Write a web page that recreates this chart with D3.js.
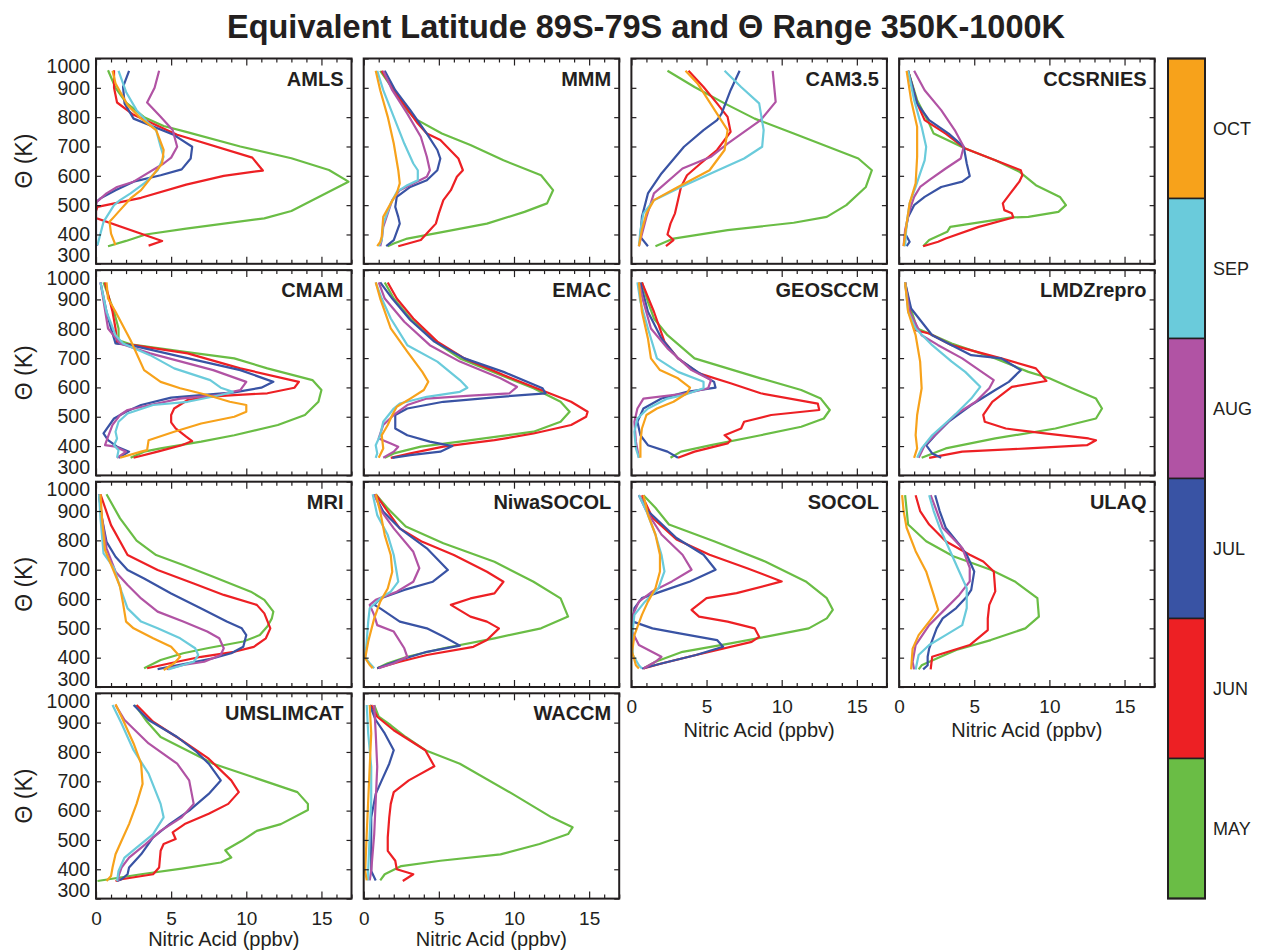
<!DOCTYPE html>
<html><head><meta charset="utf-8">
<script src="https://cdn.jsdelivr.net/npm/d3@7"></script>
<style>
body{margin:0;background:#fff;}
text{font-family:"Liberation Sans",Arial,Helvetica,sans-serif;fill:#231f20;}
</style></head><body>
<svg id="chart" width="1261" height="951" xmlns="http://www.w3.org/2000/svg"></svg>
<script>
// ---------- DATA ----------
const months = ["MAY","JUN","JUL","AUG","SEP","OCT"];
const monthColors = ["#6abd45","#ed2024","#3953a4","#b153a4","#6acbdb","#f7a21b"];
const legendOrder = ["OCT","SEP","AUG","JUL","JUN","MAY"];
const models = ["AMLS","MMM","CAM3.5","CCSRNIES","CMAM","EMAC","GEOSCCM","LMDZrepro","MRI","NiwaSOCOL","SOCOL","ULAQ","UMSLIMCAT","WACCM"];
const thetaTicks = [300,400,500,600,700,800,900,1000];
const xTickLabels = [0,5,10,15];
// each entry: [theta (K), nitric acid (ppbv)]
const AMLS = {
MAY:[[960,0.8],[900,1.3],[850,2],[800,3.2],[770,4.5],[750,6],[700,9.6],[660,13],[620,15.5],[580,16.8],[480,13],[455,11.2],[420,6],[400,3.3],[378,2],[360,0.8]],
JUN:[[960,1.2],[900,1.2],[850,1.4],[808,2.5],[740,5.4],[662,10.4],[618,11.1],[600,8.5],[570,6],[525,3],[494,0.1],[480,0],[456,0],[378,4.4],[362,3.5]],
JUL:[[958,2.2],[903,1.8],[847,1.9],[795,2.5],[739,5.2],[699,6.4],[659,6.3],[622,5.7],[602,4.3],[580,2.5],[551,1.3],[523,0.3],[510,0],[370,0],[362,0.1]],
AUG:[[958,4.2],[900,3.9],[850,3.4],[801,4.3],[756,5.1],[699,5.4],[662,5],[642,4.5],[580,2.5],[562,1.4],[540,0.7],[511,0.05],[500,0]],
SEP:[[958,1.5],[886,2],[824,2.7],[784,3.4],[756,4],[699,4.3],[665,4.5],[619,4.1],[574,3.2],[540,2.3],[517,1.6],[500,1.2],[443,0.5],[364,0.1]],
OCT:[[958,1.1],[915,1.3],[841,2.1],[795,3],[756,4],[688,4.5],[642,4.4],[551,3],[523,2.3],[483,1.6],[460,1.2],[443,0.9],[403,1],[364,1.3]]
};
const MMM = {
MAY:[[958,1.1],[892,2],[835,2.7],[795,3.4],[744,5.2],[705,7.1],[653,9.3],[602,11.8],[551,12.6],[506,12.2],[477,10.7],[437,8.2],[409,5.3],[386,2.9],[369,2],[360,1.6]],
JUN:[[958,1.2],[892,2],[778,3.6],[744,4.2],[722,5.1],[659,6.3],[619,6.6],[597,6.2],[551,5.8],[517,5.3],[472,5],[437,4.8],[409,4.3],[381,3.8],[360,2.3]],
JUL:[[958,1.4],[892,2.1],[824,3.1],[744,4.2],[688,4.9],[659,5.1],[619,4.9],[585,4.2],[562,3.1],[528,2.2],[494,2.1],[460,2.3],[437,2.4],[381,2],[360,1.5]],
AUG:[[958,1.3],[892,1.9],[812,2.9],[733,3.8],[665,4.2],[619,4.4],[597,4.2],[574,3.3],[551,2.4],[517,1.9],[472,1.6],[426,1.3],[381,1.2],[360,1.1]],
SEP:[[958,0.9],[892,1.3],[801,2],[710,2.7],[642,3.3],[619,3.6],[585,3.6],[568,2.9],[545,2.2],[506,1.8],[437,1.3],[381,1.2],[360,1]],
OCT:[[958,0.8],[892,1.1],[801,1.6],[710,2],[619,2.3],[574,2.4],[540,2.2],[506,1.8],[460,1.3],[392,1.2],[375,1.1],[360,0.9]]
};
const CAM35 = {
MAY:[[958,2.4],[903,4.2],[847,6.2],[795,8.2],[744,10.8],[659,15.1],[619,16],[562,15.6],[500,14.3],[460,13],[440,10.8],[415,6.4],[386,2.8],[360,1.6]],
JUN:[[958,3.8],[903,4.8],[847,5.7],[801,6.4],[750,6.6],[688,5.7],[642,4.6],[602,3.7],[562,3.3],[517,3.1],[472,2.9],[437,2.6],[400,2.4],[381,2.8],[360,2.3]],
JUL:[[958,7.2],[892,6.6],[812,6],[790,5.7],[756,4.8],[699,3.5],[608,2],[540,1.1],[460,0.7],[392,0.6],[360,1.1]],
AUG:[[958,9.4],[852,9.6],[790,8.6],[710,6.4],[665,5.3],[625,3.4],[540,1.5],[460,1],[381,0.6],[360,0.5]],
SEP:[[958,6.2],[903,7.3],[847,8.5],[756,8.8],[699,8.7],[659,7.5],[613,5.5],[562,3.3],[517,1.5],[472,0.8],[415,0.6],[360,0.5]],
OCT:[[958,3.6],[915,4.4],[756,6.4],[688,6.2],[619,5.2],[562,3.1],[517,1.5],[472,1],[415,0.7],[360,0.5]]
};
const CCSRNIES = {
MAY:[[958,0.6],[858,1.2],[778,2],[744,2.3],[693,4.4],[653,6.4],[614,8],[568,9.1],[528,10.7],[500,11.1],[477,10.6],[460,8.6],[458,7.5],[426,3.4],[409,3.2],[381,2],[360,1.6]],
JUN:[[958,0.6],[847,1.2],[790,1.7],[744,3.1],[693,4.4],[653,6.4],[619,8.1],[602,8.2],[580,8],[540,7.4],[506,6.9],[483,7],[472,7.5],[458,7.6],[426,5.3],[386,3.1],[375,2.6],[360,1.6]],
JUL:[[958,0.6],[847,1.2],[790,2],[744,3.3],[699,4.3],[642,4.5],[599,4.7],[580,4.2],[562,2.8],[528,1.7],[500,1],[460,0.6],[403,0.4],[375,0.7],[360,0.5]],
AUG:[[958,1],[892,1.7],[824,2.8],[756,3.7],[699,4.3],[659,4.1],[625,3.1],[585,2],[562,1.4],[528,1],[483,0.7],[415,0.4],[360,0.3]],
SEP:[[958,0.6],[858,1],[767,1.5],[699,1.8],[653,1.7],[608,1.4],[562,1.1],[506,0.7],[437,0.5],[360,0.4]],
OCT:[[958,0.5],[858,0.8],[767,1.2],[665,1.2],[574,1.1],[506,0.7],[437,0.5],[360,0.3]]
};
const CMAM = {
MAY:[[958,0.5],[858,1.2],[801,1.5],[761,1.5],[747,2.3],[722,5.8],[699,9.2],[665,11.4],[625,14.4],[591,15],[551,14.8],[506,13.9],[472,12.1],[437,9.2],[415,7],[392,4.3],[381,3.2],[360,2.3]],
JUN:[[958,0.6],[858,1.1],[801,1.3],[750,1.4],[744,2.5],[716,6.1],[665,9.6],[619,13.5],[599,13.2],[580,11.4],[574,9.2],[568,7.4],[557,6.1],[528,5.2],[506,5],[481,5],[460,5.3],[432,6],[417,6.4],[403,5.7],[381,4.1],[360,2.5]],
JUL:[[958,0.3],[858,0.7],[801,1],[750,1.3],[744,2.3],[710,5.2],[659,9.6],[619,11.8],[599,11],[583,9.2],[574,7],[565,5],[540,3],[517,2],[494,1.2],[443,0.5],[420,0.8],[398,1.4],[381,2.2],[360,1.5]],
AUG:[[958,0.3],[801,0.8],[750,1.6],[716,3.6],[659,7.8],[619,10],[591,9.6],[574,8.1],[562,5.6],[540,3.6],[523,2.1],[506,1.6],[472,1.1],[432,0.8],[403,0.6],[398,1.3],[381,2],[360,1.4]],
SEP:[[958,0.3],[858,0.7],[778,1.3],[750,1.8],[710,3.6],[665,5.2],[625,7.6],[599,8.3],[585,9.1],[574,8.3],[551,6.1],[540,3.8],[511,2.1],[483,1.5],[449,1.3],[426,1.4],[403,1.2],[386,1.5],[360,1.4]],
OCT:[[958,0.7],[903,0.8],[858,1.3],[761,2.3],[659,3.2],[619,4.3],[597,5.6],[574,7.4],[551,8.9],[540,10],[517,10],[500,9.2],[477,7],[449,5.2],[420,3.5],[386,3.4],[381,3],[360,1.6]]
};
const EMAC = {
MAY:[[958,1.4],[903,2],[835,3.1],[750,4.9],[699,6.4],[642,9.1],[597,11.3],[551,13.1],[517,13.7],[483,13.1],[449,11.3],[415,6.4],[398,3.8],[375,2],[360,1.4]],
JUN:[[958,1.6],[903,2.2],[835,3.3],[756,4.9],[699,6.7],[642,9.3],[591,11.8],[551,13.8],[517,14.9],[500,14.8],[472,13.8],[443,11.3],[420,8.7],[398,5.3],[375,3.1],[360,1.8]],
JUL:[[958,1.1],[903,1.9],[830,3.1],[756,4.7],[699,6.7],[653,9.3],[597,11.9],[580,12.1],[568,9.1],[551,5.3],[528,2.9],[506,2.1],[460,2.1],[437,2.9],[415,4.4],[400,5.9],[381,5.1],[369,3.1],[360,1.9]],
AUG:[[958,1],[903,1.4],[824,2.7],[744,4.4],[688,6.4],[631,9.1],[602,10.2],[580,9.7],[572,7.1],[562,4.2],[540,2.9],[506,2],[472,1.3],[426,1],[409,1.8],[398,2.3],[381,2],[360,1.3]],
SEP:[[958,0.8],[903,1.2],[835,1.8],[744,2.9],[688,4.9],[625,6.4],[599,6.9],[585,6.4],[568,4.2],[545,2.4],[528,2],[483,1.3],[437,1.1],[403,0.8],[375,0.9],[360,0.8]],
OCT:[[958,0.8],[903,1.1],[801,1.8],[722,2.9],[653,3.9],[619,4.3],[591,4],[562,3.1],[534,2.2],[506,1.9],[472,1.6],[437,1.2],[392,1.3],[360,1]]
};
const GEOSCCM = {
MAY:[[958,0.7],[892,1.1],[835,1.5],[778,2.4],[699,4.2],[665,6.4],[631,8.6],[591,11.3],[562,12.6],[523,13.2],[494,12.8],[466,11.3],[437,8.6],[403,5.3],[381,3.3],[360,2.6]],
JUN:[[958,0.7],[858,1.5],[756,2.2],[699,3.1],[648,4.5],[614,6.6],[580,8.6],[545,12.4],[523,12.5],[506,9.3],[483,7.5],[460,7.3],[437,6.2],[420,6.6],[409,6.4],[381,4.2],[360,3.1]],
JUL:[[958,0.6],[858,1.1],[767,2],[699,3.1],[653,4.4],[619,5.5],[599,5.6],[585,3.7],[562,2],[528,0.8],[483,0.4],[437,0.6],[403,1.1],[381,2.4],[360,3.1]],
AUG:[[958,0.5],[892,0.8],[801,1.3],[733,2.4],[659,4],[625,5.3],[597,5.1],[580,3.7],[562,0.8],[528,0.4],[483,0.2],[415,0.3],[360,0.5]],
SEP:[[958,0.4],[892,0.6],[801,1.1],[699,1.7],[653,3.1],[619,4.8],[597,4.8],[574,3.5],[562,2.4],[528,1.1],[494,0.4],[449,0.2],[392,0.3],[360,0.5]],
OCT:[[958,0.5],[858,0.7],[767,1.1],[699,1.3],[659,1.9],[631,3.1],[599,3.9],[580,3.7],[551,2.8],[528,1.7],[506,1],[460,0.7],[415,0.6],[360,0.6]]
};
const LMDZrepro = {
MAY:[[958,0.4],[880,0.7],[801,1.2],[784,2],[750,3.5],[699,6.4],[653,8.6],[631,10],[597,11.5],[562,13.1],[528,13.5],[494,13.1],[460,10.4],[426,6.4],[392,3.1],[360,1.5]],
JUN:[[958,0.4],[880,0.6],[795,1.1],[784,2],[744,3.5],[699,6.8],[665,9.1],[653,9.3],[622,9.8],[602,7.5],[551,6.2],[506,5.6],[483,5.7],[460,7.1],[443,9.7],[426,12.6],[420,13.1],[403,12.5],[392,8.6],[381,4.2],[360,2]],
JUL:[[958,0.4],[869,0.8],[778,2.2],[744,3.5],[710,4.8],[699,6.8],[659,8.1],[619,7.3],[591,6.4],[540,4.8],[483,3.3],[437,2.4],[403,1.8],[375,2.2],[360,2.8]],
AUG:[[958,0.4],[858,0.7],[778,1.5],[744,2.6],[699,4.2],[653,5.5],[625,6.3],[597,6],[551,5.1],[506,3.7],[449,2.6],[403,1.7],[360,1.3]],
SEP:[[958,0.4],[858,0.6],[801,1.1],[744,2.2],[688,3.5],[653,4.4],[602,5.4],[562,4.8],[506,3.7],[437,2.2],[392,1.5],[360,1.2]],
OCT:[[958,0.4],[858,0.6],[778,1.1],[688,1.4],[597,1.5],[506,1.2],[437,1.1],[392,1.2],[360,1]]
};
const MRI = {
MAY:[[957,0.7],[875,1.6],[799,2.7],[750,4],[716,5.8],[676,7.8],[625,10.3],[597,11.2],[557,11.8],[534,11.7],[506,11.4],[477,10.9],[455,9.8],[432,7.4],[415,5.8],[392,4.3],[364,3.2]],
JUN:[[957,0.3],[852,1],[750,2.1],[699,4.1],[653,6.5],[614,8.5],[580,10.7],[551,11.2],[500,11.6],[466,11.3],[437,10.5],[420,9.2],[403,7],[386,5.4],[364,3.4]],
JUL:[[957,0.2],[875,0.4],[795,0.7],[744,1.3],[699,2.1],[670,3.2],[619,5],[568,7],[523,8.7],[500,9.7],[477,10],[437,9.8],[415,9],[398,7.8],[381,6.1],[361,4.1]],
AUG:[[957,0.2],[875,0.4],[773,0.7],[693,1.3],[648,2.1],[602,3],[557,4.1],[523,5.8],[489,7.4],[466,8.2],[432,8.5],[409,8.3],[386,7.2],[375,5.8],[361,4.7]],
SEP:[[957,0.2],[875,0.3],[756,0.5],[705,1.2],[625,1.7],[568,2.1],[523,3],[500,4.1],[466,5.6],[432,6.6],[409,6.8],[386,6.5],[375,5.8],[360,4.8]],
OCT:[[957,0.3],[875,0.4],[767,0.6],[693,1.2],[642,1.6],[585,1.8],[523,2],[500,2.5],[466,3.8],[437,5],[403,5.6],[381,5.2],[358,4.5]]
};
const NiwaSOCOL = {
MAY:[[957,0.8],[909,1.6],[847,2.8],[790,5.3],[727,8.7],[659,11.3],[602,13.1],[540,13.6],[500,11.8],[466,8.7],[432,5.3],[403,2.9],[381,1.6],[364,0.9]],
JUN:[[957,0.8],[898,1.6],[841,2.4],[795,3.9],[750,6],[693,8.2],[659,9.3],[619,8.7],[602,7.1],[580,5.8],[540,7.1],[523,8.2],[500,9],[460,8.2],[437,7.3],[409,4.2],[386,2.4],[364,0.9]],
JUL:[[957,0.7],[898,1.3],[841,2.4],[773,4.2],[699,5.6],[659,4.6],[631,2.7],[602,1.1],[580,0.7],[568,1.1],[523,2.4],[500,4.2],[472,5.3],[441,6.4],[420,4.2],[392,2.4],[364,0.9]],
AUG:[[957,0.7],[898,1.2],[841,2],[761,3.3],[705,3.7],[659,3.3],[625,2.2],[597,0.8],[580,0.4],[545,0.7],[511,0.9],[489,2],[432,2.7],[403,2.9],[381,2],[364,1]],
SEP:[[957,0.6],[886,0.9],[818,1.6],[750,2],[659,2.3],[625,1.8],[602,1.1],[568,0.4],[523,0.3],[455,0.2],[400,0.1],[381,0.4],[364,0.7]],
OCT:[[957,0.8],[898,1.1],[818,1.4],[750,1.8],[693,1.9],[636,1.6],[591,1.1],[534,0.7],[455,0.3],[398,0.1],[375,0.4],[364,0.6]]
};
const SOCOL = {
MAY:[[954,0.8],[911,1.6],[854,2.5],[797,5.5],[728,8.9],[660,11.6],[603,13],[563,13.4],[534,13],[500,11.8],[471,8.9],[449,6.6],[420,3.4],[386,1.6],[363,0.8]],
JUN:[[954,0.7],[877,1.4],[803,3],[751,5.2],[705,7.7],[660,10],[620,7],[603,5],[563,4],[540,4.5],[523,6.4],[500,8.2],[471,8.5],[454,8],[409,4.3],[380,2],[363,0.8]],
JUL:[[954,0.5],[900,1.1],[808,3],[751,4.8],[700,5.6],[660,3.9],[626,2],[603,0.7],[569,0.2],[523,0.1],[500,1.4],[483,3.2],[460,5.7],[437,6.1],[409,4.3],[380,2],[363,0.7]],
AUG:[[954,0.5],[900,1],[820,2],[751,3.4],[700,4],[660,2.7],[626,1.4],[591,0.5],[546,0.1],[489,0.05],[443,0.5],[403,2],[386,1.6],[363,0.8]],
SEP:[[954,0.5],[900,1],[820,1.6],[751,2],[694,2.2],[637,1.8],[591,0.9],[546,0.2],[477,0.05],[409,0.1],[374,0.5],[363,0.7]],
OCT:[[954,0.8],[888,1.1],[820,1.6],[751,1.9],[694,1.9],[637,1.6],[591,1.1],[546,0.7],[477,0.2],[420,0.05],[374,0.3],[363,0.5]]
};
const ULAQ = {
MAY:[[954,0.4],[854,0.6],[797,1.8],[746,3.6],[700,6.1],[660,7.7],[603,9.2],[540,9.3],[500,8.4],[460,6.1],[426,3.8],[397,2.5],[374,1.5],[360,1.3]],
JUN:[[954,1.1],[900,1.4],[854,2],[797,3.1],[751,4.7],[728,5.6],[694,6.3],[626,6.4],[580,6],[534,5.9],[494,5.9],[443,4.7],[403,2.2],[360,2.1]],
JUL:[[954,2.4],[900,2.7],[843,3.1],[786,4],[751,4.5],[694,5],[631,4.8],[608,4.5],[569,3.8],[534,2.9],[500,2.5],[431,2],[403,1.9],[374,1.9],[360,1.6]],
AUG:[[954,2.1],[900,2.5],[843,2.9],[774,4.2],[706,4.7],[660,4.7],[614,4],[557,2.9],[511,2],[443,1.1],[386,0.9],[360,1]],
SEP:[[954,2],[900,2.3],[843,2.7],[763,3.4],[694,4],[637,4.5],[569,4.5],[511,4.2],[477,3.1],[443,2],[409,1.3],[360,1.1]],
OCT:[[954,0.2],[900,0.3],[843,0.5],[763,1.1],[694,1.8],[614,2.3],[563,2.6],[523,2],[477,1.3],[431,0.9],[360,0.8]]
};
const UMSLIMCAT = {
MAY:[[960,2.6],[903,3.4],[851,4.3],[794,6.5],[760,7.8],[663,13.4],[623,14.1],[602,14.1],[554,12.3],[531,10.7],[497,9.7],[465,8.6],[440,9],[423,8.3],[402,5.7],[383,3],[360,0.1]],
JUN:[[960,2.7],[903,3.8],[840,5.7],[777,7.5],[703,9],[663,9.5],[623,8.8],[589,7.5],[554,5.9],[526,5.1],[503,5.3],[486,4.5],[463,4.3],[406,4.2],[383,3.8],[366,1.7],[360,1.3]],
JUL:[[960,2.5],[909,3.5],[851,5.4],[800,6.7],[760,7.5],[703,8.3],[657,7.5],[600,6.2],[554,4.9],[509,3.8],[451,3],[406,2.2],[383,2.1],[366,1.7],[360,1.4]],
AUG:[[960,1.3],[909,1.9],[829,3.5],[760,5.4],[703,6.2],[623,6.5],[577,5.7],[531,4.3],[486,3.3],[440,2.2],[406,1.7],[377,1.5],[360,1.5]],
SEP:[[960,1.1],[897,1.7],[806,2.5],[726,3.5],[623,4.3],[577,4.5],[520,3.8],[474,2.7],[440,1.9],[394,1.5],[360,1.4]],
OCT:[[963,1.3],[920,1.7],[829,2.5],[760,3],[691,3.1],[623,2.7],[554,2.2],[497,1.7],[451,1.3],[406,1.1],[377,1],[360,0.7]]
};
const WACCM = {
MAY:[[960,0.7],[920,1],[891,1.8],[851,2.8],[806,4.1],[760,6.4],[657,9.9],[577,12.5],[543,13.9],[520,13.6],[486,11.7],[451,9.1],[429,5.1],[411,2.5],[383,1.4],[362,1.1]],
JUN:[[960,0.5],[920,0.9],[874,2],[806,4.1],[751,4.7],[703,3],[663,2],[623,1.8],[577,1.7],[509,1.6],[463,1.6],[429,2.1],[400,2.2],[383,3.3],[360,2.6]],
JUL:[[960,0.4],[909,0.8],[863,1.4],[806,2],[760,1.7],[703,1.2],[657,0.8],[577,0.5],[486,0.5],[394,0.5],[362,0.8]],
AUG:[[960,0.7],[863,0.8],[749,0.9],[634,0.8],[520,0.7],[394,0.5],[362,0.4]],
SEP:[[960,0.2],[863,0.3],[749,0.5],[634,0.5],[520,0.4],[394,0.3],[362,0.3]],
OCT:[[960,0.4],[863,0.5],[749,0.4],[634,0.3],[520,0.2],[394,0.1],[362,0.2]]
};
const modelSeries = [AMLS,MMM,CAM35,CCSRNIES,CMAM,EMAC,GEOSCCM,LMDZrepro,MRI,NiwaSOCOL,SOCOL,ULAQ,UMSLIMCAT,WACCM];

// ---------- LAYOUT ----------
const svg = d3.select("#chart");
const panelLeft0 = 96, panelDX = 267.7, panelW = 255.5;
const panelTop0 = 58.5, panelDY = 211.6, panelH = 205.3;
const xDomain = [0,17], yDomain = [300,1000];
const monthColor = d3.scaleOrdinal().domain(months).range(monthColors);

svg.append("rect").attr("width",1261).attr("height",951).attr("fill","#fff");

svg.append("text").attr("x",646).attr("y",38).attr("text-anchor","middle")
  .attr("font-size",32.5).attr("font-weight","bold")
  .text("Equivalent Latitude 89S-79S and \u0398 Range 350K-1000K");

const defs = svg.append("defs");

models.forEach((name,i)=>{
  const col = i%4, row = Math.floor(i/4);
  const x0 = panelLeft0 + col*panelDX, y0 = panelTop0 + row*panelDY;
  const x = d3.scaleLinear().domain(xDomain).range([x0, x0+panelW]);
  const y = d3.scaleLinear().domain(yDomain).range([y0+panelH, y0]);
  const g = svg.append("g");
  const cid = "clip"+i;
  defs.append("clipPath").attr("id",cid).append("rect")
    .attr("x",x0).attr("y",y0).attr("width",panelW).attr("height",panelH);

  const data = modelSeries[i];
  const line = d3.line().x(d=>x(d[1])).y(d=>y(d[0]));
  const lg = g.append("g").attr("clip-path",`url(#${cid})`);
  months.forEach(m=>{
    lg.append("path").datum(data[m]).attr("d",line)
      .attr("fill","none").attr("stroke",monthColor(m))
      .attr("stroke-width",2.2).attr("stroke-linejoin","round");
  });

  const isBottom = row===3 || (row===2 && col>=2);
  const isLeft = col===0;
  // y axes
  const ya = g.append("g").attr("transform",`translate(${x0},0)`)
    .call(d3.axisLeft(y).tickValues(thetaTicks).tickSize(-5).tickPadding(6)
      .tickFormat(isLeft ? d3.format("d") : ""));
  g.append("g").attr("transform",`translate(${x0+panelW},0)`)
    .call(d3.axisRight(y).tickValues(thetaTicks).tickSize(-5).tickFormat(""));
  // x axes
  const xt = d3.range(0,18);
  const xa = g.append("g").attr("transform",`translate(0,${y0+panelH})`)
    .call(d3.axisBottom(x).tickValues(xt).tickSize(-4).tickPadding(12.5)
      .tickFormat(d => (isBottom && xTickLabels.includes(d)) ? d : ""));
  const xat = g.append("g").attr("transform",`translate(0,${y0})`)
    .call(d3.axisTop(x).tickValues(xt).tickSize(-4).tickFormat(""));
  [xa,xat].forEach(a=>a.selectAll(".tick line")
    .attr("y2", d => (d%5===0 ? (a===xa?-7:7) : (a===xa?-4:4))));
  g.selectAll(".domain").remove();
  g.selectAll(".tick line").attr("stroke","#231f20").attr("stroke-width",1.2);
  ya.selectAll(".tick text").attr("font-size",19.5);
  xa.selectAll(".tick text").attr("font-size",19);
  g.selectAll(".tick text").attr("font-family",null).attr("fill","#231f20");
  ya.selectAll(".tick").filter(d=>d===1000).select("text").attr("dy","0.72em");
  ya.selectAll(".tick").filter(d=>d===300).select("text").attr("dy","-0.1em");

  g.append("rect").attr("x",x0).attr("y",y0).attr("width",panelW).attr("height",panelH)
    .attr("fill","none").attr("stroke","#231f20").attr("stroke-width",2);

  g.append("text").attr("x",x0+panelW-8).attr("y",y0+27).attr("text-anchor","end")
    .attr("font-size",20).attr("font-weight","bold").text(name);

  if (isLeft) {
    g.append("text").attr("transform",`translate(32,${y0+panelH/2}) rotate(-90)`)
      .attr("text-anchor","middle").attr("font-size",23).text("\u0398 (K)");
  }
  if (isBottom) {
    g.append("text").attr("x",x0+panelW/2).attr("y",y0+panelH+(row===3?47.5:50))
      .attr("text-anchor","middle").attr("font-size",20).text("Nitric Acid (ppbv)");
  }
});

// ---------- COLOR BAR ----------
const cbX = 1168, cbW = 37, cbTop = 58.5, cbBottom = 898.5;
const cbY = d3.scaleBand().domain(legendOrder).range([cbTop, cbBottom]);
const cb = svg.append("g");
cb.selectAll("rect").data(legendOrder).join("rect")
  .attr("x",cbX).attr("y",d=>cbY(d)).attr("width",cbW).attr("height",cbY.bandwidth())
  .attr("fill",d=>monthColor(d)).attr("stroke","#231f20").attr("stroke-width",1.5);
cb.append("rect").attr("x",cbX).attr("y",cbTop).attr("width",cbW).attr("height",cbBottom-cbTop)
  .attr("fill","none").attr("stroke","#231f20").attr("stroke-width",2);
cb.selectAll("text").data(legendOrder).join("text")
  .attr("x",cbX+cbW+8).attr("y",d=>cbY(d)+cbY.bandwidth()/2).attr("dy","0.35em")
  .attr("font-size",18).text(d=>d);
</script></body></html>
